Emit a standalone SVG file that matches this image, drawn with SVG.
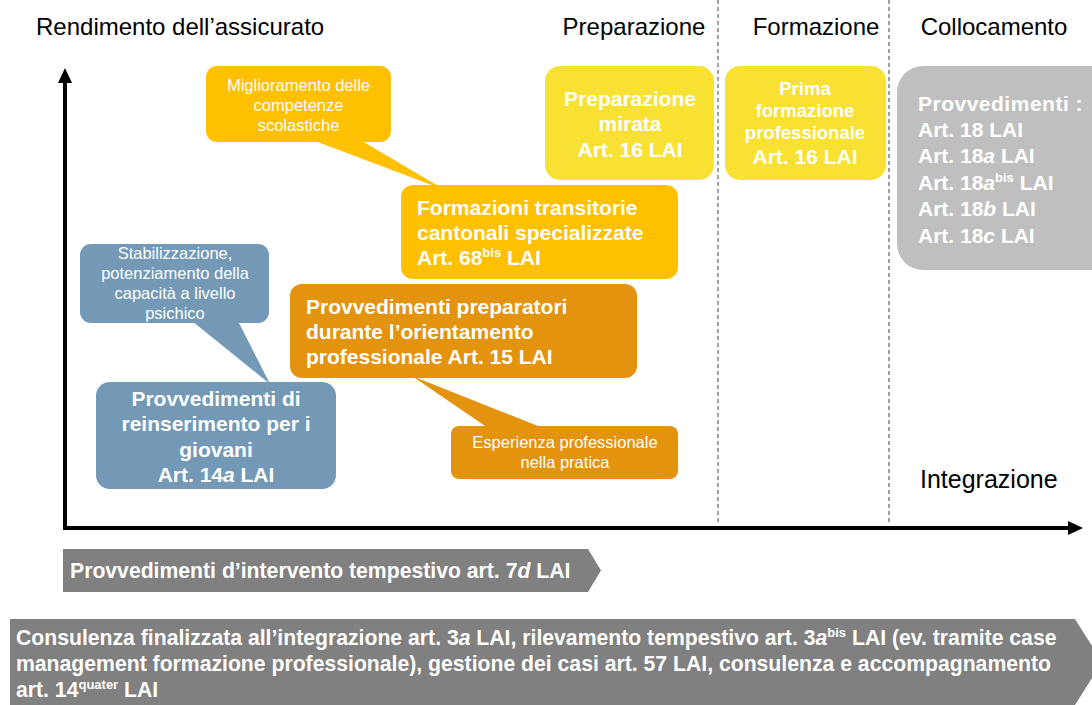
<svg xmlns="http://www.w3.org/2000/svg" width="1092" height="705" viewBox="0 0 1092 705">
<style>
text{font-family:"Liberation Sans",Arial,sans-serif}
.hdr{font-size:24px;fill:#000}
.b{font-weight:bold;fill:#fff}
.n{fill:#fff;font-size:16.5px}
.c{text-anchor:middle}
.dash{stroke:#404040;stroke-width:1;stroke-dasharray:4 3;fill:none}
.axis{stroke:#000;stroke-width:4;fill:none}
</style>
<rect width="1092" height="705" fill="#fff"/>

<g id="headers">
<text class="hdr" x="36" y="35">Rendimento dell’assicurato</text>
<text class="hdr c" x="634" y="35">Preparazione</text>
<text class="hdr c" x="816" y="35">Formazione</text>
<text class="hdr c" x="994" y="35">Collocamento</text>
<text class="hdr" x="920" y="488" style="font-size:25px">Integrazione</text>
</g>

<g id="connectors">
<line class="dash" x1="718" y1="0" x2="718" y2="525"/>
<line class="dash" x1="889" y1="0" x2="889" y2="525"/>
<line class="axis" x1="65" y1="80" x2="65" y2="530"/>
<polygon points="58,83 65,68 72,83" fill="#000"/>
<line class="axis" x1="63" y1="528" x2="1070" y2="528"/>
<polygon points="1068,521 1083,528 1068,535" fill="#000"/>
</g>

<g id="callout-miglioramento">
<polygon points="315,141 362,141 445,190" fill="#FFC000"/>
<rect x="206" y="66" width="185" height="76" rx="11" fill="#FFC000"/>
<text class="n c" x="298.5" y="91">Miglioramento delle</text>
<text class="n c" x="298.5" y="111">competenze</text>
<text class="n c" x="298.5" y="131">scolastiche</text>
</g>

<g id="node-preparazione-mirata">
<rect x="545" y="66" width="169" height="114" rx="15" fill="#F9E133"/>
<text class="b c" font-size="21" x="630" y="106">Preparazione</text>
<text class="b c" font-size="21" x="630" y="131">mirata</text>
<text class="b c" font-size="21" x="630" y="157">Art. 16 LAI</text>
</g>

<g id="node-prima-formazione">
<rect x="725" y="66" width="161" height="114" rx="15" fill="#F9E133"/>
<text class="b c" font-size="18.5" x="805" y="95">Prima</text>
<text class="b c" font-size="18.5" x="805" y="117">formazione</text>
<text class="b c" font-size="18.5" x="805" y="139">professionale</text>
<text class="b c" font-size="21" x="805" y="164">Art. 16 LAI</text>
</g>

<g id="node-collocamento">
<rect x="897" y="66" width="220" height="204" rx="26" fill="#BFBFBF"/>
<text class="b" font-size="21" x="918" y="111" letter-spacing="0.5">Provvedimenti :</text>
<text class="b" font-size="21" x="918" y="137">Art. 18 LAI</text>
<text class="b" font-size="21" x="918" y="163">Art. 18<tspan font-style="italic">a</tspan> LAI</text>
<text class="b" font-size="21" x="918" y="190">Art. 18<tspan font-style="italic">a</tspan><tspan font-size="13" dy="-8">bis</tspan><tspan dy="8"> LAI</tspan></text>
<text class="b" font-size="21" x="918" y="216">Art. 18<tspan font-style="italic">b</tspan> LAI</text>
<text class="b" font-size="21" x="918" y="243">Art. 18<tspan font-style="italic">c</tspan> LAI</text>
</g>

<g id="node-formazioni-transitorie">
<rect x="401" y="185" width="277" height="94" rx="12" fill="#FFC000"/>
<text class="b" font-size="21" x="417" y="215">Formazioni transitorie</text>
<text class="b" font-size="21" x="417" y="240">cantonali specializzate</text>
<text class="b" font-size="21" x="417" y="265">Art. 68<tspan font-size="13" dy="-8">bis</tspan><tspan dy="8"> LAI</tspan></text>
</g>

<g id="callout-esperienza">
<polygon points="412,376 488,428 543,428" fill="#E4930F"/>
<rect x="451" y="426" width="227" height="53" rx="8" fill="#E4930F"/>
<text class="n c" x="565" y="448">Esperienza professionale</text>
<text class="n c" x="565" y="468">nella pratica</text>
</g>

<g id="node-provvedimenti-preparatori">
<rect x="290" y="284" width="347" height="94" rx="12" fill="#E4930F"/>
<text class="b" font-size="21" x="306" y="314">Provvedimenti preparatori</text>
<text class="b" font-size="21" x="306" y="339">durante l’orientamento</text>
<text class="b" font-size="21" x="306" y="364">professionale Art. 15 LAI</text>
</g>

<g id="callout-stabilizzazione">
<polygon points="192,321 238,321 270,384" fill="#7399B6"/>
<rect x="80" y="244" width="189" height="79" rx="11" fill="#7399B6"/>
<text class="n c" x="175" y="259">Stabilizzazione,</text>
<text class="n c" x="175" y="279">potenziamento della</text>
<text class="n c" x="175" y="299">capacità a livello</text>
<text class="n c" x="175" y="319">psichico</text>
</g>

<g id="node-reinserimento">
<rect x="96" y="382" width="240" height="107" rx="14" fill="#7399B6"/>
<text class="b c" font-size="21" x="216" y="406">Provvedimenti di</text>
<text class="b c" font-size="21" x="216" y="431">reinserimento per i</text>
<text class="b c" font-size="21" x="216" y="457">giovani</text>
<text class="b c" font-size="21" x="216" y="482">Art. 14<tspan font-style="italic">a</tspan> LAI</text>
</g>

<g id="banner-intervento">
<polygon points="63,549 588,549 601,570.5 588,592 63,592" fill="#808080"/>
<text class="b" font-size="21.2" x="70" y="578">Provvedimenti d’intervento tempestivo art. 7<tspan font-style="italic">d</tspan> LAI</text>
</g>

<g id="banner-consulenza">
<polygon points="10,619 1075,619 1102,662 1075,705 10,705" fill="#808080"/>
<text class="b" font-size="21.2" x="16" y="645">Consulenza finalizzata all’integrazione art. 3<tspan font-style="italic">a</tspan> LAI, rilevamento tempestivo art. 3<tspan font-style="italic">a</tspan><tspan font-size="13" dy="-8">bis</tspan><tspan dy="8"> LAI (ev. tramite case</tspan></text>
<text class="b" font-size="21.2" x="16" y="671">management formazione professionale), gestione dei casi art. 57 LAI, consulenza e accompagnamento</text>
<text class="b" font-size="21.2" x="16" y="697">art. 14<tspan font-size="13" dy="-8">quater</tspan><tspan dy="8"> LAI</tspan></text>
</g>
</svg>
